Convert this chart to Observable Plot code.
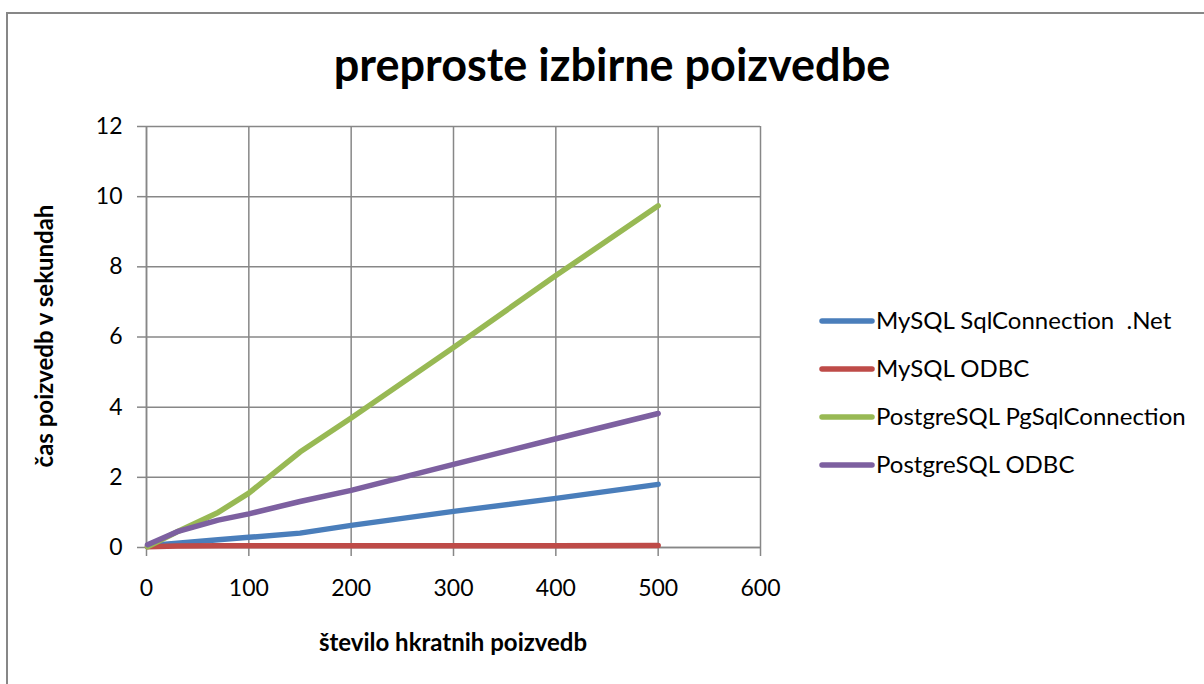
<!DOCTYPE html>
<html>
<head>
<meta charset="utf-8">
<script src="https://cdn.jsdelivr.net/npm/d3@7"></script>
<script src="https://cdn.jsdelivr.net/npm/@observablehq/plot@0.6"></script>
<style>
  html, body { margin: 0; padding: 0; background: #fff; }
  svg { display: block; }
</style>
</head>
<body>
<div id="chart"></div>
<script>
const title = "preproste izbirne poizvedbe";
const xTitle = "število hkratnih poizvedb";
const yTitle = "čas poizvedb v sekundah";
const seriesNames = ["MySQL SqlConnection  .Net", "MySQL ODBC", "PostgreSQL PgSqlConnection", "PostgreSQL ODBC"];
const seriesColors = ["#4a7ebb", "#be4b48", "#98b954", "#7d60a0"];
const xValues = [1, 30, 70, 100, 150, 200, 300, 400, 500];
const mysqlNet = [0.05, 0.12, 0.22, 0.29, 0.41, 0.63, 1.03, 1.40, 1.80];
const mysqlOdbc = [0.02, 0.04, 0.05, 0.05, 0.05, 0.05, 0.05, 0.05, 0.06];
const pgsqlConn = [0.02, 0.45, 1.00, 1.55, 2.72, 3.69, 5.70, 7.75, 9.74];
const pgsqlOdbc = [0.08, 0.45, 0.78, 0.96, 1.31, 1.63, 2.37, 3.10, 3.82];
const xTicks = [0, 100, 200, 300, 400, 500, 600];
const yTicks = [0, 2, 4, 6, 8, 10, 12];

const allSeries = [mysqlNet, mysqlOdbc, pgsqlConn, pgsqlOdbc];
const data = [];
allSeries.forEach((vals, i) => vals.forEach((v, j) => data.push({series: seriesNames[i], x: xValues[j], y: v})));

const W = 1204, H = 684;
const font = "Lato, 'Open Sans', sans-serif";
const gridColor = "#878787";

const plot = Plot.plot({
  width: W, height: H,
  marginLeft: 146, marginRight: W - 760, marginTop: 126, marginBottom: H - 547,
  style: {fontFamily: font, fontSize: "23px", color: "#000", background: "#fff"},
  x: {domain: [0, 600], ticks: xTicks, label: null},
  y: {domain: [0, 12], ticks: yTicks, label: null},
  color: {domain: seriesNames, range: seriesColors},
  marks: [
    Plot.gridX(xTicks, {stroke: gridColor, strokeOpacity: 1, strokeWidth: 1.5}),
    Plot.gridY(yTicks, {stroke: gridColor, strokeOpacity: 1, strokeWidth: 1.5}),
    Plot.axisX(xTicks, {tickSize: 9, tickPadding: 23, stroke: gridColor, strokeWidth: 1.5, fontSize: 23, label: null}),
    Plot.axisY(yTicks, {tickSize: 9, tickPadding: 15, stroke: gridColor, strokeWidth: 1.5, fontSize: 23, label: null}),
    Plot.ruleY([0], {stroke: gridColor, strokeWidth: 1.5}),
    Plot.ruleX([0], {stroke: gridColor, strokeWidth: 1.5}),
    Plot.line(data, {x: "x", y: "y", z: "series", stroke: "series", strokeWidth: 5.5, strokeLinejoin: "round", strokeLinecap: "round"})
  ]
});

const svg = d3.select(plot);
// outer chart border
svg.append("path")
  .attr("d", `M7,${H} V13 H${W}`)
  .attr("fill", "none").attr("stroke", "#878787").attr("stroke-width", 2);

svg.append("text")
  .attr("x", 612).attr("y", 81)
  .attr("text-anchor", "middle")
  .attr("font-family", font).attr("font-weight", "bold").attr("font-size", 45)
  .attr("fill", "#000")
  .text(title);

svg.append("text")
  .attr("x", 453).attr("y", 651)
  .attr("text-anchor", "middle")
  .attr("font-family", font).attr("font-weight", "bold").attr("font-size", 24)
  .attr("fill", "#000")
  .text(xTitle);

svg.append("text")
  .attr("transform", "translate(53,336) rotate(-90)")
  .attr("text-anchor", "middle")
  .attr("font-family", font).attr("font-weight", "bold").attr("font-size", 24)
  .attr("fill", "#000")
  .text(yTitle);

const color = plot.scale("color");
const legend = svg.append("g").attr("text-anchor", "start");
seriesNames.forEach((name, i) => {
  const cy = 321 + i * 48;
  legend.append("line")
    .attr("x1", 822).attr("x2", 872).attr("y1", cy).attr("y2", cy)
    .attr("stroke", color.range[i]).attr("stroke-width", 5.5).attr("stroke-linecap", "round");
  legend.append("text")
    .attr("x", 876).attr("y", cy).attr("dy", "0.35em")
    .attr("text-anchor", "start")
    .attr("font-family", font).attr("font-size", 24)
    .attr("fill", "#000")
    .attr("xml:space", "preserve")
    .style("white-space", "pre")
    .text(name);
});

document.getElementById("chart").appendChild(plot);
</script>
</body>
</html>
